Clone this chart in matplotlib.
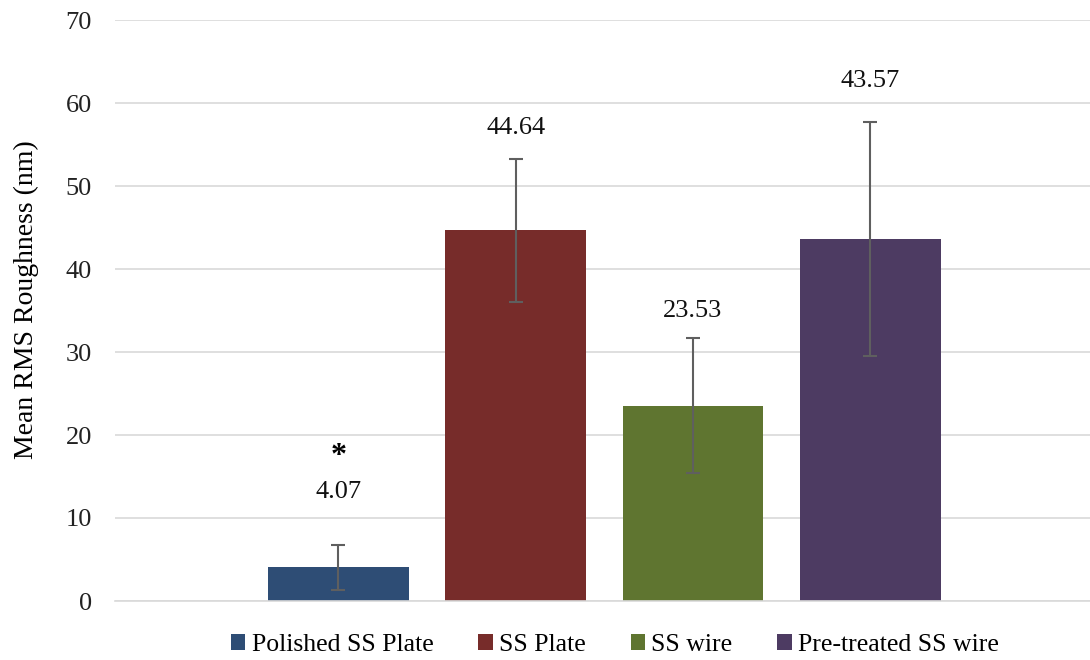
import matplotlib
matplotlib.use('Agg')
import matplotlib.pyplot as plt
import numpy as np

plt.rcParams['font.family'] = ['Liberation Serif', 'DejaVu Serif']

samples = ['Polished SS Plate', 'SS Plate', 'SS wire', 'Pre-treated SS wire']
means = [4.07, 44.64, 23.53, 43.57]
errs = [2.7, 8.6, 8.1, 14.1]
label_y = [13.1, 57.0, 35.0, 62.6]
colors = ['#2E4D75', '#772C2A', '#5F7530', '#4D3B62']

fig = plt.figure(figsize=(10.9, 6.6), dpi=100)
ax = fig.add_axes([115/1090, 1 - 601/660, 1 - 115/1090, (601 - 20)/660])

x = np.arange(len(samples))
for i in range(len(samples)):
    ax.bar(x[i], means[i], width=0.794, color=colors[i], label=samples[i], zorder=2)
    ax.errorbar(x[i], means[i], yerr=errs[i], fmt='none', ecolor='#5F5F5F',
                elinewidth=1.5, capsize=5, capthick=1.5, zorder=3)
    ax.text(x[i], label_y[i], '{:.2f}'.format(means[i]), ha='center', va='center',
            fontsize=19, color='#111111')
# significance marker
ax.text(x[0], 17.4, '*', ha='center', va='center', fontsize=23, fontweight='bold')

ax.set_xlim(-1.26, 4.24)
ax.set_ylim(0, 70)
ax.set_yticks(np.arange(0, 71, 10))
ax.set_xticks([])
ax.grid(axis='y', color='#D9D9D9', linewidth=1.2, zorder=0)
ax.set_axisbelow(True)
for s in ['top', 'right', 'left']:
    ax.spines[s].set_visible(False)
ax.spines['bottom'].set_color('#D9D9D9')
ax.spines['bottom'].set_linewidth(1.2)
ax.tick_params(axis='y', length=0, pad=16.5, labelsize=19, labelcolor='#222222')
ax.set_ylabel('Mean RMS Roughness (nm)', fontsize=20, labelpad=19)
ax.yaxis.label.set_y(0.518)

fig.legend(loc='center', bbox_to_anchor=(615/1090, 1 - 645/660), ncol=4,
           frameon=False, fontsize=18.5, handlelength=0.55, handleheight=0.55,
           handletextpad=0.25, columnspacing=1.75)

fig.savefig('out.png', dpi=100)
plt.close()
